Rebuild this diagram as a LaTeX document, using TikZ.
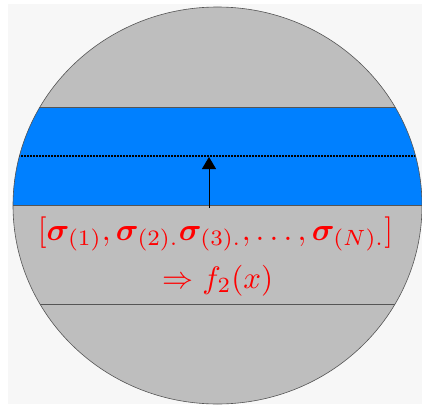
\documentclass[tikz,border=0pt]{standalone}
\usepackage{amsmath}
\usepackage{bm}
\usepackage{fontspec}
\setmainfont{Liberation Serif}
\usepackage{graphicx}
\usetikzlibrary{arrows.meta}
\definecolor{bgpanel}{HTML}{F7F7F7}
\definecolor{discgray}{HTML}{BEBEBE}
\definecolor{bandblue}{HTML}{0080FF}
\definecolor{edgegray}{HTML}{555555}
\tikzset{
  chord/.style={draw=edgegray, line width=0.8pt},
  redtext/.style={text=red, inner sep=0pt, anchor=base},
  pointer/.style={draw=black, line width=0.9pt, -{Triangle[width=14pt,length=12pt]}},
  dotline/.style={draw=black, line width=1.6pt, dash pattern=on 1.6pt off 1.4pt}
}
\begin{document}
\begin{tikzpicture}[x=1pt,y=1pt]
\useasboundingbox (0,0) rectangle (422,405);
\fill[white] (0,0) rectangle (422,405);
\fill[bgpanel] (8,1) rectangle (422,401);
% disc
\fill[discgray] (217.5,199.5) ellipse [x radius=204.5, y radius=198.5];
\begin{scope}
  \clip (217.5,199.5) ellipse [x radius=204.5, y radius=198.5];
  \fill[bandblue] (0,200) rectangle (422,298);
  \draw[chord] (0,298) -- (422,298);
  \draw[chord] (0,200) -- (422,200);
  \draw[chord] (0,101) -- (422,101);
  \draw[dotline] (0,249.3) -- (422,249.3);
\end{scope}
\draw[edgegray, line width=0.6pt] (217.5,199.5) ellipse [x radius=204.5, y radius=198.5];
% arrow
\coordinate (from) at (209,197.5);
\coordinate (to) at (209,248);
\draw[pointer] (from) -- (to);
% texts
\node[redtext] (seq) at (215.5,165)
  {\scalebox{3.15}{$[\bm{\sigma}_{(1)},\bm{\sigma}_{(2).}\bm{\sigma}_{(3).},\ldots,\bm{\sigma}_{(N).}]$}};
\node[redtext] (res) at (218,117)
  {\scalebox{3.1}{$\Rightarrow f_2(x)$}};
\end{tikzpicture}
\end{document}
